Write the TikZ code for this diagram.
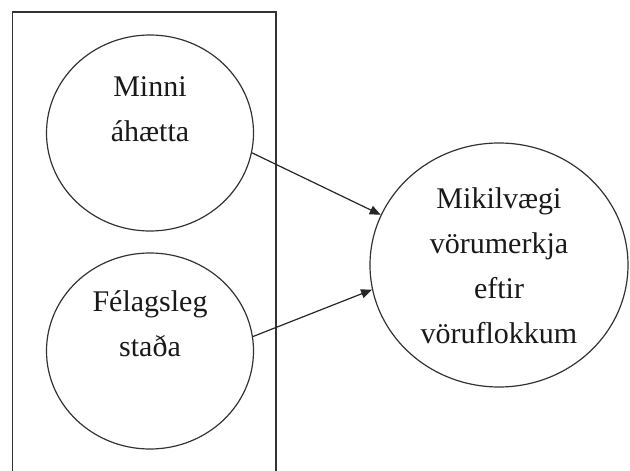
\documentclass[tikz,border=0pt]{standalone}
\usepackage{fontspec}
\setmainfont{Liberation Serif}
\usetikzlibrary{shapes.geometric,arrows.meta}
\begin{document}
\begin{tikzpicture}[x=1pt,y=-1pt,
  bubble/.style={draw=black!80,line width=1.2pt,ellipse,inner sep=0pt},
  lbl/.style={font=\fontsize{30}{30}\selectfont,text=black!90,inner sep=0pt,anchor=base},
  link/.style={draw=black!85,line width=1.2pt,-{Triangle[length=11pt,width=9pt]}}]
\useasboundingbox (0,0) rectangle (630,471);
\begin{scope}
\clip (0,0) rectangle (630,471);
\draw[black!80,line width=1.3pt] (12.5,12) rectangle (276,480);
\end{scope}
\node[bubble,minimum width=207pt,minimum height=196pt] (c1) at (150,133) {};
\node[bubble,minimum width=207pt,minimum height=196pt] (c2) at (150,351) {};
\node[bubble,minimum width=258pt,minimum height=244pt] (c3) at (499,265) {};
\node[lbl] (t1) at (150,96) {Minni};
\node[lbl] (t2) at (150,141) {áhætta};
\node[lbl] (t3) at (150,311) {Félagsleg};
\node[lbl] (t4) at (150,356) {staða};
\node[lbl] (t5) at (499,208) {Mikilvægi};
\node[lbl] (t6) at (499,253) {vörumerkja};
\node[lbl] (t7) at (499,298) {eftir};
\node[lbl] (t8) at (499,343) {vöruflokkum};
\draw[link] (c1.-11.5) -- (c3.157);
\draw[link] (c2.8.8) -- (c3.191);
\end{tikzpicture}
\end{document}
